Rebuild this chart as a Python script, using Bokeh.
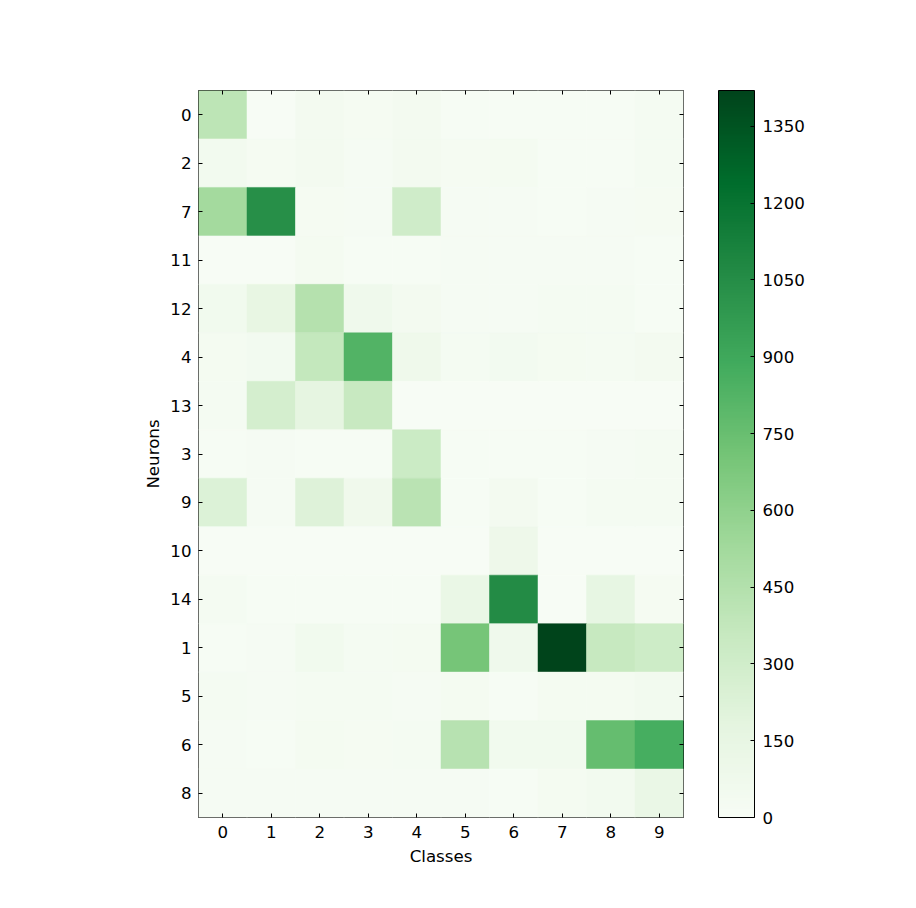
import numpy as np
from bokeh.plotting import figure
from bokeh.models import (ColumnDataSource, Range1d, LinearColorMapper, ColorBar,
                          FixedTicker, LinearAxis)
from bokeh.embed import file_html
from bokeh.resources import INLINE

# ---- data ----
classes = ["0", "1", "2", "3", "4", "5", "6", "7", "8", "9"]
neurons = ["0", "2", "7", "11", "12", "4", "13", "3", "9", "10", "14", "1", "5", "6", "8"]
counts = [
    [400, 5, 40, 25, 40, 15, 15, 15, 15, 30],      # 0
    [55, 25, 40, 20, 40, 25, 35, 15, 15, 30],      # 2
    [520, 1040, 25, 20, 310, 18, 20, 15, 18, 25],  # 7
    [5, 5, 35, 8, 8, 20, 20, 20, 20, 12],          # 11
    [60, 150, 440, 80, 40, 18, 18, 30, 30, 12],    # 12
    [35, 45, 370, 830, 85, 30, 45, 35, 30, 40],    # 4
    [30, 280, 170, 350, 5, 5, 5, 5, 5, 5],         # 13
    [12, 18, 10, 8, 330, 10, 10, 10, 20, 28],      # 3
    [230, 18, 220, 75, 420, 12, 40, 8, 30, 30],    # 9
    [5, 5, 5, 5, 5, 5, 90, 5, 5, 5],               # 10
    [30, 12, 12, 12, 12, 130, 1060, 5, 160, 25],   # 14
    [8, 22, 65, 30, 35, 700, 80, 1420, 360, 320],  # 1
    [30, 20, 30, 30, 22, 38, 8, 35, 35, 55],       # 5
    [18, 12, 35, 25, 30, 430, 60, 65, 760, 870],   # 6
    [18, 18, 18, 18, 18, 18, 15, 35, 50, 130],     # 8
]
cbar_ticks = [0, 150, 300, 450, 600, 750, 900, 1050, 1200, 1350]

# ---- palette (matplotlib Greens) ----
greens9 = ['#f7fcf5', '#e5f5e0', '#c7e9c0', '#a1d99b', '#74c476',
           '#41ab5d', '#238b45', '#006d2c', '#00441b']
rgb = np.array([[int(c[i:i + 2], 16) for i in (1, 3, 5)] for c in greens9], dtype=float)
pos = np.linspace(0, 1, len(greens9))
t = np.linspace(0, 1, 256)
palette = []
for v in t:
    r, g, b = (np.interp(v, pos, rgb[:, k]) for k in range(3))
    palette.append("#%02x%02x%02x" % (int(round(r)), int(round(g)), int(round(b))))

xs, ys, vs = [], [], []
for ni in range(len(neurons)):
    for ci in range(len(classes)):
        xs.append(ci)
        ys.append(ni)
        vs.append(counts[ni][ci])
source = ColumnDataSource(dict(cls=xs, neuron=ys, count=vs))

vmax = max(vs)
mapper = LinearColorMapper(palette=palette, low=0, high=vmax)

FONT = "DejaVu Sans"
FS = "16.67px"

nx, ny = len(classes), len(neurons)
p = figure(x_range=Range1d(-0.5, nx - 0.5), y_range=Range1d(ny - 0.5, -0.5),
           frame_width=485, frame_height=727,
           min_border_left=198, min_border_top=90, min_border_bottom=85, min_border_right=130,
           output_backend="svg", toolbar_location=None,
           background_fill_color="white", border_fill_color="white")

p.rect(x="cls", y="neuron", width=1, height=1, source=source,
       fill_color={"field": "count", "transform": mapper},
       line_color={"field": "count", "transform": mapper}, line_width=0.5)

p.xgrid.grid_line_color = None
p.ygrid.grid_line_color = None
p.outline_line_color = "black"
p.outline_line_width = 1
p.outline_line_alpha = 1

p.xaxis[0].ticker = FixedTicker(ticks=list(range(nx)), minor_ticks=[])
p.yaxis[0].ticker = FixedTicker(ticks=list(range(ny)), minor_ticks=[])
p.xaxis[0].major_label_overrides = {i: c for i, c in enumerate(classes)}
p.yaxis[0].major_label_overrides = {i: n for i, n in enumerate(neurons)}

for ax in (p.xaxis[0], p.yaxis[0]):
    ax.major_tick_in = 4
    ax.major_tick_out = 0
    ax.minor_tick_line_color = None
    ax.major_tick_line_color = "black"
    ax.axis_line_color = None
    ax.major_label_text_font = FONT
    ax.major_label_text_font_size = FS
    ax.major_label_text_color = "black"
    ax.axis_label_text_font = FONT
    ax.axis_label_text_font_size = FS
    ax.axis_label_text_font_style = "normal"
    ax.axis_label_text_color = "black"
p.xaxis[0].axis_label = "Classes"
p.yaxis[0].axis_label = "Neurons"
p.xaxis[0].major_label_standoff = 8
p.yaxis[0].major_label_standoff = 7
p.xaxis[0].axis_label_standoff = 6
p.yaxis[0].axis_label_standoff = 4

for side, n in (("above", nx), ("right", ny)):
    ax = LinearAxis(ticker=FixedTicker(ticks=list(range(n)), minor_ticks=[]),
                    major_tick_in=4, major_tick_out=0, axis_line_color=None,
                    minor_tick_line_color=None,
                    major_tick_line_color="black",
                    major_label_overrides={i: "" for i in range(n)},
                    major_label_standoff=0)
    p.add_layout(ax, side)

cb = ColorBar(color_mapper=mapper, ticker=FixedTicker(ticks=cbar_ticks, minor_ticks=[]),
              width=36, height=727, padding=0, margin=0, location=(35, 0),
              major_tick_in=4, major_tick_out=0, major_tick_line_color="black",
              minor_tick_line_color=None,
              bar_line_color="black", bar_line_width=1,
              major_label_text_font=FONT, major_label_text_font_size=FS,
              major_label_text_color="black", label_standoff=8,
              background_fill_color=None, border_line_color=None)
p.add_layout(cb, "right")

with open("out.html", "w") as f:
    f.write(file_html(p, INLINE))
